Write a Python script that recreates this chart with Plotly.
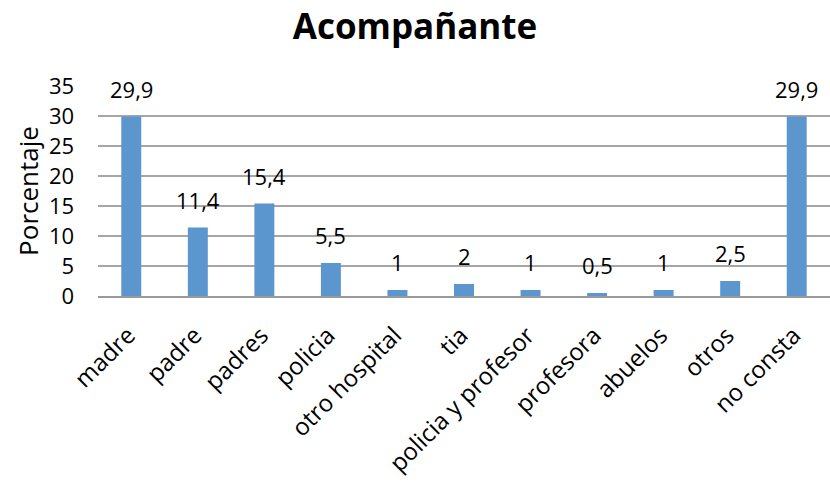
import plotly.graph_objects as go

categories = ["madre", "padre", "padres", "policia", "otro hospital", "tia",
              "policia y profesor", "profesora", "abuelos", "otros", "no consta"]
values = [29.9, 11.4, 15.4, 5.5, 1, 2, 1, 0.5, 1, 2.5, 29.9]
labels = [f"{v:g}".replace(".", ",") for v in values]
y_ticks = [0, 5, 10, 15, 20, 25, 30, 35]

font = "'Open Sans', sans-serif"

fig = go.Figure(go.Bar(
    x=categories, y=values,
    marker=dict(color="#5B96CF", line=dict(width=0)),
    width=0.3, cliponaxis=False,
))

for c, v, t in zip(categories, values, labels):
    fig.add_annotation(x=c, y=v, text=t, showarrow=False, yanchor="bottom",
                       yshift=11, font=dict(size=22, color="black", family=font))

fig.update_layout(
    width=830, height=483,
    paper_bgcolor="white", plot_bgcolor="white",
    margin=dict(l=98, r=0, t=86, b=187),
    title=dict(text="<b>Acompañante</b>", x=0.5, xanchor="center", y=0.945, yanchor="middle",
               font=dict(size=35, color="black", family=font)),
    showlegend=False,
    font=dict(family=font, color="black"),
)
fig.update_xaxes(
    tickangle=-45, tickfont=dict(size=24, color="black"),
    showline=True, linecolor="#9A9A9A", linewidth=1.5,
    ticks="outside", ticklen=14, tickcolor="rgba(0,0,0,0)",
    showgrid=False, ticklabelshift=-3,
)
fig.update_yaxes(
    range=[0, 35], tickmode="array", tickvals=y_ticks,
    ticktext=[f"{v}" + "\u00a0" * 4 for v in y_ticks],
    tickfont=dict(size=22, color="black"),
    showgrid=True, gridcolor="#A6A6A6", gridwidth=1.5, zeroline=False,
    ticks="",
    title=dict(text="Porcentaje", font=dict(size=26, color="black"), standoff=2),
)

fig.write_html("out.html")
